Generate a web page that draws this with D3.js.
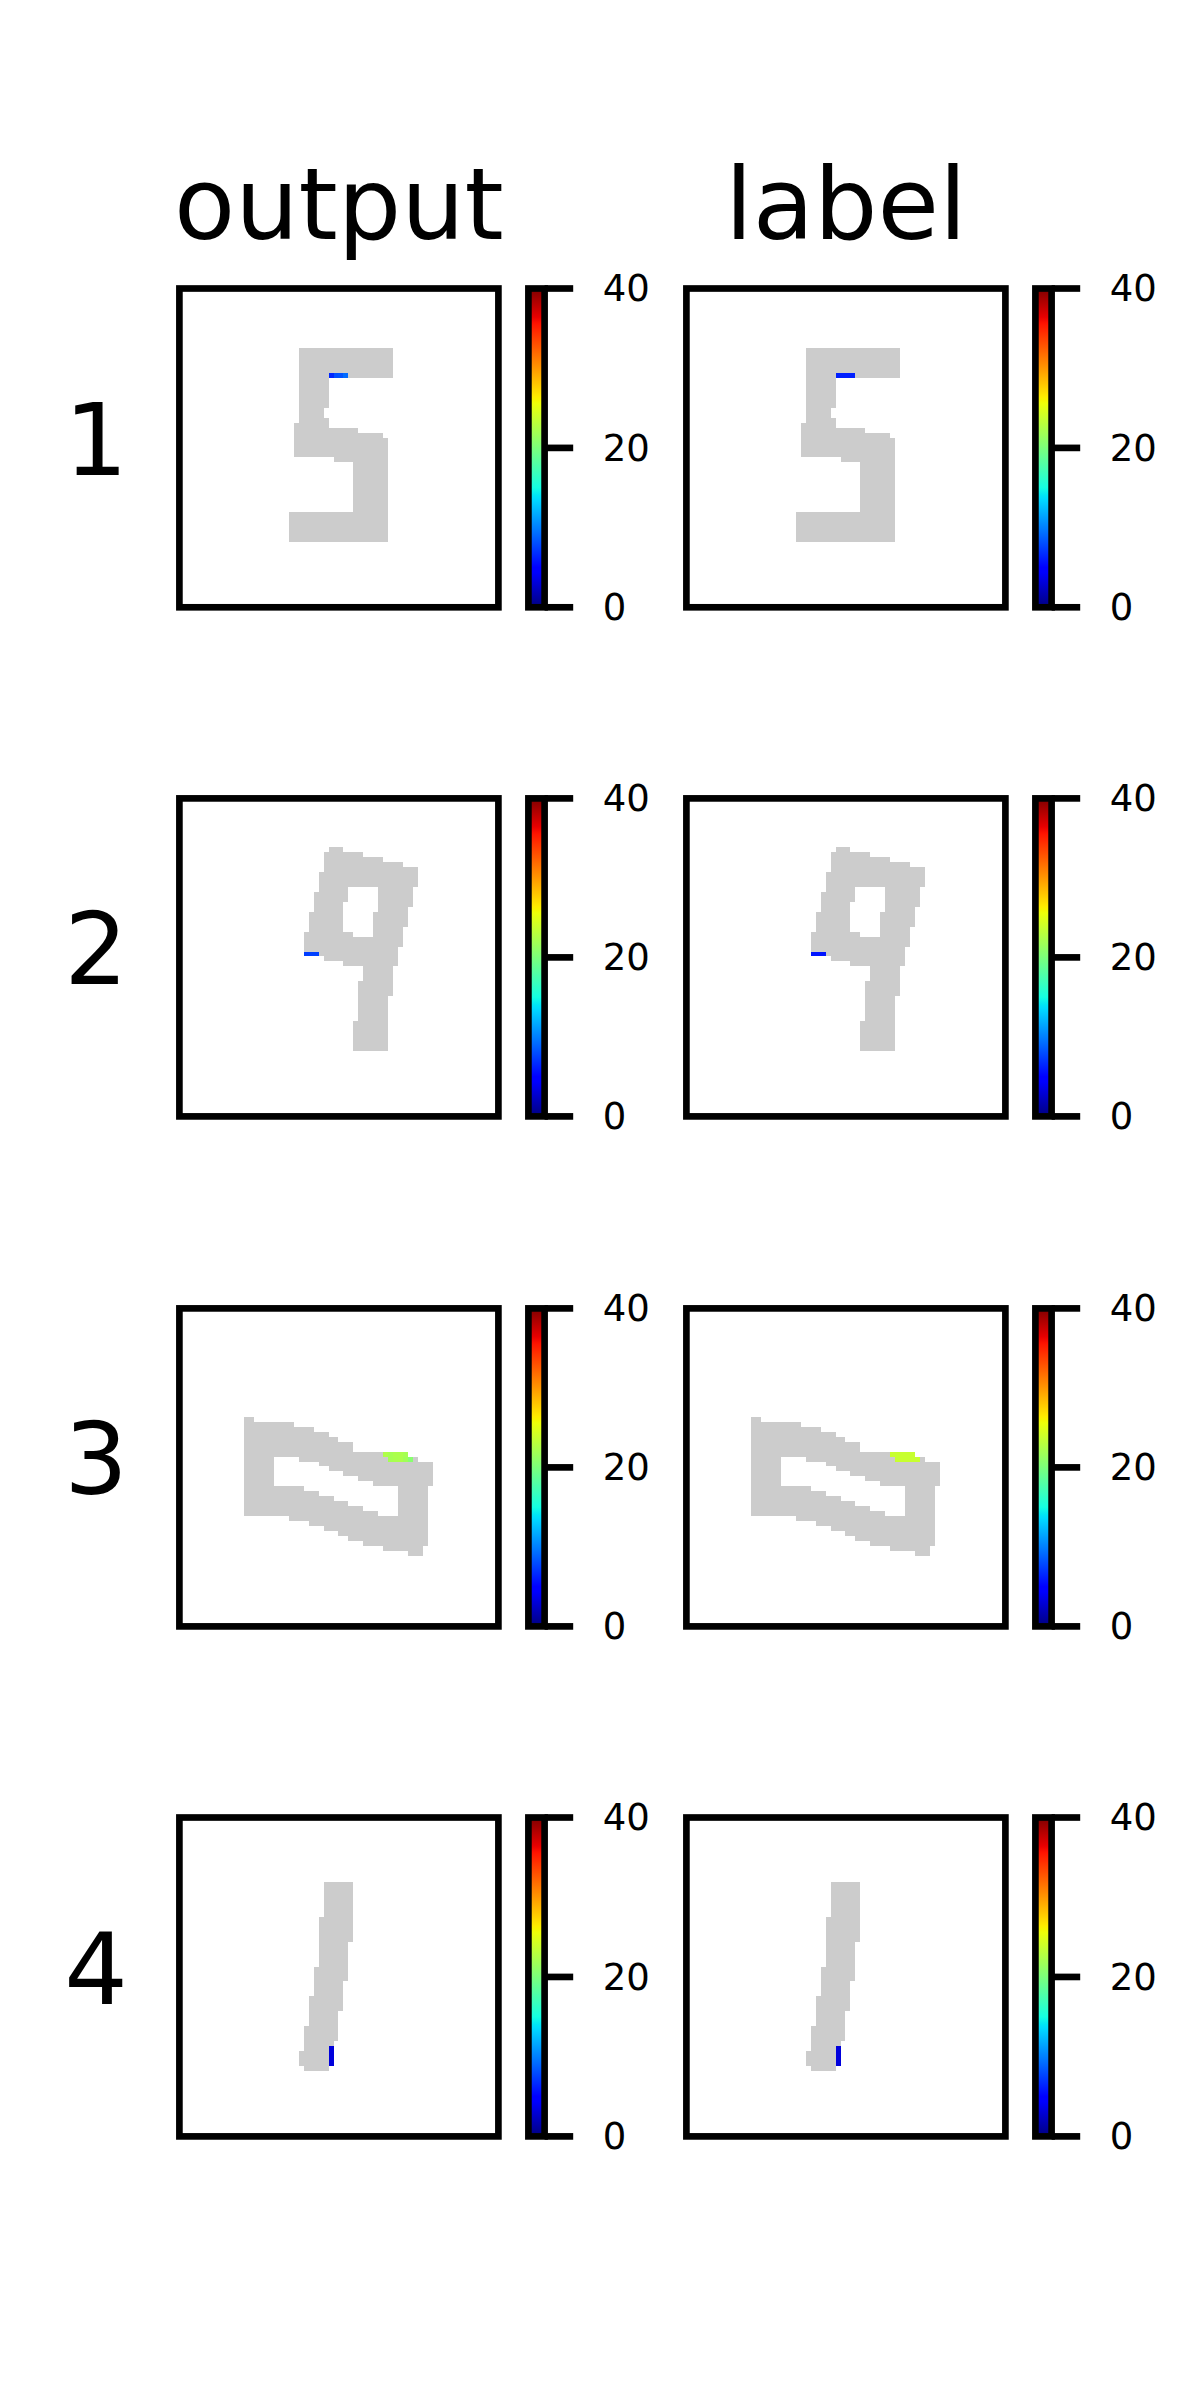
<!DOCTYPE html>
<html>
<head>
<meta charset="utf-8">
<script src="https://cdn.jsdelivr.net/npm/d3@7"></script>
<style>
    html, body { margin: 0; padding: 0; background: #fff; }
    text { font-family: "DejaVu Sans"; fill: #000; }
</style>
</head>
<body>
<div id="chart"></div>
<script>
// column titles, row numbers, colorbar
var col_titles = ["output", "label"];
var row_names = ["1", "2", "3", "4"];
var color_domain = [0, 40];
var color_ticks = [0, 20, 40];
var grid_size = 64;

// digit masks, each run is [row from, row to, col from, col to] (ends exclusive)
var mask_1 = [
    [12, 18, 24, 43], [18, 24, 24, 30], [24, 26, 24, 29], [26, 27, 24, 30],
    [27, 28, 23, 30], [28, 29, 23, 36], [29, 30, 23, 41], [30, 34, 23, 42],
    [34, 35, 31, 42], [35, 45, 35, 42], [45, 51, 22, 42]
];
var mask_2 = [
    [10, 11, 30, 33], [11, 12, 29, 37], [12, 13, 29, 41], [13, 14, 29, 45],
    [14, 15, 29, 48], [15, 18, 28, 48], [18, 19, 28, 34], [18, 19, 40, 47],
    [19, 21, 27, 34], [19, 21, 40, 47], [21, 22, 27, 33], [21, 22, 40, 47],
    [22, 23, 27, 33], [22, 23, 40, 46], [23, 26, 26, 33], [23, 26, 39, 46],
    [26, 27, 26, 33], [26, 27, 39, 45], [27, 28, 25, 35], [27, 28, 39, 45],
    [28, 30, 25, 45], [30, 32, 25, 44], [32, 33, 29, 44], [33, 34, 33, 44],
    [34, 37, 37, 43], [37, 40, 36, 43], [40, 45, 36, 42], [45, 51, 35, 42]
];
var mask_3 = [
    [22, 23, 13, 15], [23, 24, 13, 23], [24, 25, 13, 27], [25, 26, 13, 30],
    [26, 27, 13, 32], [27, 29, 13, 35], [29, 30, 13, 46], [30, 31, 13, 19],
    [30, 31, 24, 48], [31, 32, 13, 19], [31, 32, 28, 51], [32, 33, 13, 19],
    [32, 33, 30, 51], [33, 34, 13, 19], [33, 34, 33, 51], [34, 35, 13, 19],
    [34, 35, 36, 51], [35, 36, 13, 19], [35, 36, 39, 51], [36, 37, 13, 25],
    [36, 37, 44, 50], [37, 38, 13, 28], [37, 38, 44, 50], [38, 39, 13, 31],
    [38, 39, 44, 50], [39, 40, 13, 34], [39, 40, 44, 50], [40, 41, 13, 37],
    [40, 41, 44, 50], [41, 42, 13, 40], [41, 42, 44, 50], [42, 43, 22, 50],
    [43, 44, 26, 50], [44, 45, 29, 50], [45, 46, 32, 50], [46, 47, 34, 50],
    [47, 48, 37, 50], [48, 49, 41, 49], [49, 50, 46, 49]
];
var mask_4 = [
    [13, 20, 29, 35], [20, 25, 28, 35], [25, 30, 28, 34], [30, 33, 27, 34],
    [33, 36, 27, 33], [36, 39, 26, 33], [39, 42, 26, 32], [42, 45, 25, 32],
    [45, 47, 25, 31], [47, 50, 24, 31], [50, 51, 25, 30]
];
var masks = [mask_1, mask_2, mask_3, mask_4];

// coloured cells on the masks, each is [row, col, value]
var output_1 = [[17, 30, 6.5], [17, 31, 8.1], [17, 32, 8.2], [17, 33, 9.2]];
var label_1 = [[17, 30, 6.2], [17, 31, 6.2], [17, 32, 6.2], [17, 33, 6.2]];
var output_2 = [[31, 25, 7.4], [31, 26, 7.5], [31, 27, 7.5]];
var label_2 = [[31, 25, 5.8], [31, 26, 5.8], [31, 27, 5.8]];
var output_3 = [
    [29, 41, 22.5], [29, 42, 22], [29, 43, 22.3], [29, 44, 22.3], [29, 45, 22],
    [30, 42, 22], [30, 43, 22.2], [30, 44, 22.3], [30, 45, 21.8], [30, 46, 20.6]
];
var label_3 = [
    [29, 41, 23.7], [29, 42, 23.7], [29, 43, 23.7], [29, 44, 23.7], [29, 45, 23.7],
    [30, 42, 23.7], [30, 43, 23.7], [30, 44, 23.7], [30, 45, 23.7], [30, 46, 23.7]
];
var output_4 = [[46, 30, 3.2], [47, 30, 3.2], [48, 30, 3.2], [49, 30, 3.2]];
var label_4 = [[46, 30, 3.2], [47, 30, 3.2], [48, 30, 3.2], [49, 30, 3.2]];
var cells = [
    [output_1, label_1],
    [output_2, label_2],
    [output_3, label_3],
    [output_4, label_4]
];

// layout, the picture rows do not sit at even steps so they are listed
var image_size = 318.72;
var image_x = [179.13, 686.13];
var image_y = [288.13, 797.13, 1307.13, 1817.13];
var box_x = [179.4, 686.4];
var box_top = [288.5, 798.4, 1308.4, 1817.5];
var box_bottom = [607.3, 1116.4, 1626.4, 2136.4];
var box_width = 319;
var line_width = 6.67;

// jet, same anchors as matplotlib
var jet_r = d3.scaleLinear().domain([0, 0.35, 0.66, 0.89, 1]).range([0, 0, 1, 1, 0.5]);
var jet_g = d3.scaleLinear().domain([0, 0.125, 0.375, 0.64, 0.91, 1]).range([0, 0, 1, 1, 0, 0]);
var jet_b = d3.scaleLinear().domain([0, 0.11, 0.34, 0.65, 1]).range([0.5, 1, 1, 0, 0]);
var value_to_t = d3.scaleLinear().domain(color_domain).range([0, 1]);
function jet(v) {
    var t = value_to_t(v);
    return d3.rgb(jet_r(t) * 255, jet_g(t) * 255, jet_b(t) * 255).formatHex();
}

var svg = d3.select("#chart").append("svg")
    .attr("width", 1200)
    .attr("height", 2400);

var defs = svg.append("defs");
var gradient = defs.append("linearGradient")
    .attr("id", "jet_bar")
    .attr("x1", 0).attr("y1", 1)
    .attr("x2", 0).attr("y2", 0);
gradient.selectAll("stop")
    .data(d3.range(0, 257))
    .enter()
    .append("stop")
    .attr("offset", function(d) { return d / 256; })
    .attr("stop-color", function(d) { return jet(color_domain[1] * d / 256); });

function draw_panel(row, col) {
    var x = d3.scaleLinear().domain([0, grid_size]).range([image_x[col], image_x[col] + image_size]);
    var y = d3.scaleLinear().domain([0, grid_size]).range([image_y[row], image_y[row] + image_size]);
    var g = svg.append("g");

    g.append("g").selectAll("rect")
        .data(masks[row])
        .enter()
        .append("rect")
        .attr("x", function(d) { return Math.round(x(d[2])); })
        .attr("y", function(d) { return Math.round(y(d[0])); })
        .attr("width", function(d) { return Math.round(x(d[3])) - Math.round(x(d[2])); })
        .attr("height", function(d) { return Math.round(y(d[1])) - Math.round(y(d[0])); })
        .attr("fill", "#cccccc")
        .attr("shape-rendering", "crispEdges");

    g.append("g").selectAll("rect")
        .data(cells[row][col])
        .enter()
        .append("rect")
        .attr("x", function(d) { return Math.round(x(d[1])); })
        .attr("y", function(d) { return Math.round(y(d[0])); })
        .attr("width", function(d) { return Math.round(x(d[1] + 1)) - Math.round(x(d[1])); })
        .attr("height", function(d) { return Math.round(y(d[0] + 1)) - Math.round(y(d[0])); })
        .attr("fill", function(d) { return jet(d[2]); })
        .attr("shape-rendering", "crispEdges");

    g.append("rect")
        .attr("x", box_x[col])
        .attr("y", box_top[row])
        .attr("width", box_width)
        .attr("height", box_bottom[row] - box_top[row])
        .attr("fill", "none")
        .attr("stroke", "#000")
        .attr("stroke-width", line_width);

    draw_colorbar(g, row, col);
}

function draw_colorbar(g, row, col) {
    var left = box_x[col] + 349;
    var right = left + 16.2;
    var scale = d3.scaleLinear().domain(color_domain).range([box_bottom[row], box_top[row]]);

    g.append("rect")
        .attr("x", left)
        .attr("y", scale(color_domain[1]))
        .attr("width", right - left)
        .attr("height", scale(color_domain[0]) - scale(color_domain[1]))
        .attr("fill", "url(#jet_bar)")
        .attr("stroke", "#000")
        .attr("stroke-width", line_width);

    var axis = d3.axisRight(scale)
        .tickValues(color_ticks)
        .tickSize(28.6)
        .tickSizeOuter(0)
        .tickPadding(29.5)
        .offset(0);
    var a = g.append("g")
        .attr("transform", "translate(" + right + ",0)")
        .call(axis);
    a.select(".domain").remove();
    a.selectAll("line").attr("stroke", "#000").attr("stroke-width", line_width);
    a.selectAll("text")
        .attr("font-size", 37)
        .attr("font-family", "DejaVu Sans")
        .attr("dy", "0.35em");
}

col_titles.forEach(function(d, i) {
    svg.append("text")
        .attr("x", box_x[i] + box_width / 2)
        .attr("y", 238.5)
        .attr("text-anchor", "middle")
        .attr("font-size", 100)
        .text(d);
});

row_names.forEach(function(d, i) {
    svg.append("text")
        .attr("x", 96)
        .attr("y", (box_top[i] + box_bottom[i]) / 2 + 27)
        .attr("text-anchor", "middle")
        .attr("font-size", 100)
        .text(d);
    col_titles.forEach(function(c, j) {
        draw_panel(i, j);
    });
});
</script>
</body>
</html>
